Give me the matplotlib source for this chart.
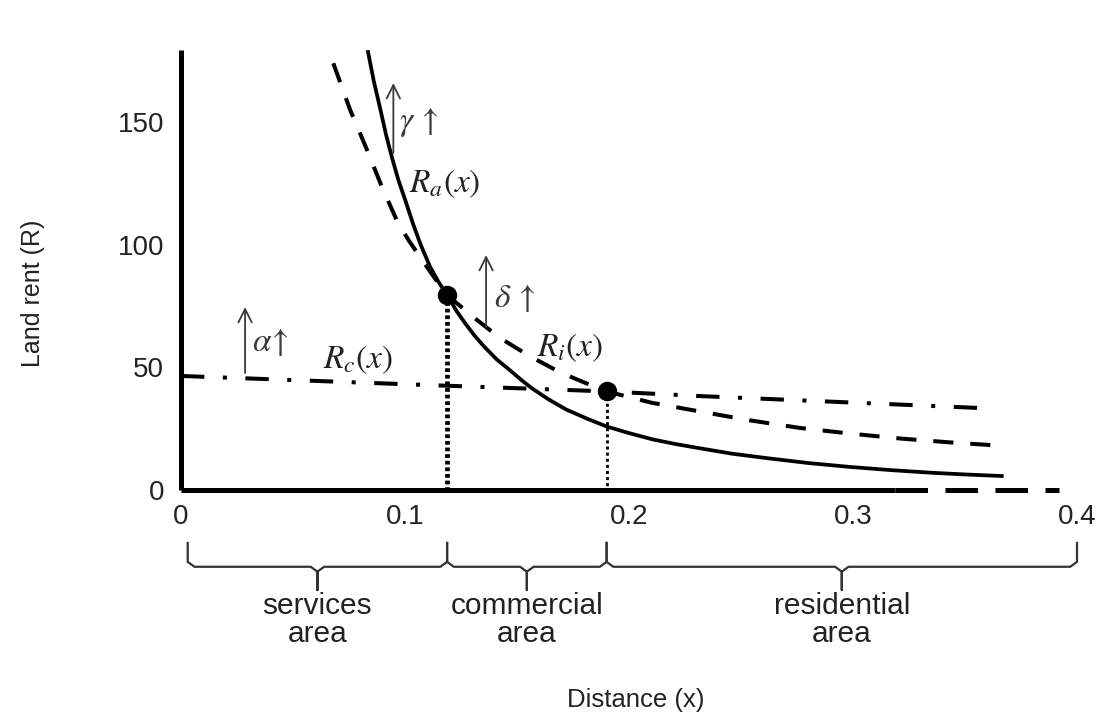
import matplotlib
matplotlib.use("Agg")
from matplotlib import pyplot as plt

plt.rcParams["font.family"] = ["Liberation Sans", "DejaVu Sans"]
plt.rcParams["mathtext.fontset"] = "stix"

# agricultural / services bid-rent curve (solid)
dist_a = [0.0835, 0.0860, 0.0888, 0.0915, 0.0942, 0.0970, 0.1000, 0.1036, 0.1070,
          0.1112, 0.1150, 0.1188, 0.1230, 0.1270, 0.1310, 0.1348, 0.1410, 0.1469,
          0.1520, 0.1566, 0.1640, 0.1720, 0.1810, 0.1900, 0.2000, 0.2107, 0.2210,
          0.2317, 0.2460, 0.2615, 0.2800, 0.2987, 0.3170, 0.3357, 0.3510, 0.3664]
rent_a = [178.6, 167.0, 156.0, 145.0, 135.5, 126.5, 118.5, 108.5, 100.0,
          91.0, 84.8, 79.5, 73.0, 67.8, 63.0, 59.0, 53.2, 48.8,
          44.8, 41.5, 37.0, 32.8, 29.2, 25.9, 23.2, 20.6, 18.7,
          17.0, 14.8, 13.0, 11.0, 9.4, 8.1, 7.0, 6.3, 5.7]

# industrial / commercial bid-rent curve (dashed)
dist_i = [0.0680, 0.0755, 0.0829, 0.0895, 0.0963, 0.1015, 0.1067, 0.1128, 0.1188,
          0.1305, 0.1424, 0.1558, 0.1692, 0.1796, 0.1900, 0.2100, 0.2317, 0.2540,
          0.2763, 0.2987, 0.3210, 0.3420, 0.3634]
rent_i = [174.0, 155.0, 139.0, 124.0, 110.0, 102.0, 95.0, 87.0, 79.5,
          70.5, 62.0, 54.5, 48.0, 44.0, 40.2, 35.6, 32.0, 28.4,
          25.3, 23.0, 21.0, 19.5, 18.2]

# residential bid-rent curve (dash-dot)
dist_c = [0.0, 0.110, 0.190, 0.2317, 0.360]
rent_c = [46.5, 42.8, 40.2, 38.3, 33.3]

# zone boundaries (intersections)
cross_x = [0.1188, 0.1900]
cross_y = [79.5, 40.2]

zone_edges = [0.003, 0.1188, 0.1900, 0.400]
zone_names = ["services\narea", "commercial\narea", "residential\narea"]

xticks = [0.0, 0.1, 0.2, 0.3, 0.4]
xtick_labels = ["0", "0.1", "0.2", "0.3", "0.4"]
yticks = [0, 50, 100, 150]

# shift arrows: (x, from, to, label, label x, label y)
shift_arrows = [
    (0.0948, 137.4, 165.9, r"$\gamma\,\uparrow$", 0.0972, 150.0),
    (0.1362, 66.4, 95.8, r"$\delta\,\uparrow$", 0.1398, 78.0),
    (0.0286, 47.7, 74.6, r"$\alpha\!\uparrow$", 0.0315, 60.0),
]
curve_labels = [
    (r"$R_a(x)$", 0.1018, 125.0),
    (r"$R_c(x)$", 0.0636, 53.0),
    (r"$R_i(x)$", 0.1590, 58.0),
]

fig = plt.figure(figsize=(11.02, 7.18), dpi=100)
ax = fig.add_axes([181 / 1102, 228 / 718, 896 / 1102, 440 / 718])
ax.set_xlim(0, 0.4)
ax.set_ylim(0, 179.4)

for side in ["top", "right", "bottom"]:
    ax.spines[side].set_visible(False)
ax.spines["left"].set_linewidth(3.6)
ax.spines["left"].set_capstyle("butt")

ax.set_xticks(xticks)
ax.set_xticklabels(xtick_labels)
ax.set_yticks(yticks)
ax.tick_params(axis="both", length=0, labelsize=20, colors="#222222")
ax.tick_params(axis="x", pad=10)
ax.tick_params(axis="y", pad=12)

# x axis: solid then dashed continuation
ax.plot([0, 0.3187], [0, 0], color="black", lw=3.6, solid_capstyle="butt", clip_on=False)
ax.plot([0.3187, 0.392], [0, 0], color="black", lw=3.6, dashes=(6.5, 3.5),
        dash_capstyle="butt", clip_on=False)

ax.plot(dist_c, rent_c, color="black", lw=2.9, dashes=(5.8, 4.6, 1, 4.6))
ax.plot(dist_i, rent_i, color="black", lw=2.9, dashes=(5, 4.2))
ax.plot(dist_a, rent_a, color="black", lw=2.7, solid_joinstyle="round")

# dotted drops to the axis
ax.plot([cross_x[0], cross_x[0]], [cross_y[0], 0], color="black", lw=3.4,
        dashes=(0.8, 0.6))
ax.plot([cross_x[1], cross_x[1]], [cross_y[1], 0], color="black", lw=2.0,
        dashes=(1.1, 1.1))
ax.plot(cross_x, cross_y, "o", color="black", ms=13, zorder=5)

for x, y0, y1, txt, tx, ty in shift_arrows:
    ax.annotate("", xy=(x, y1), xytext=(x, y0),
                arrowprops=dict(arrowstyle="->", lw=1.3, color="#3a3a3a",
                                shrinkA=0, shrinkB=0, mutation_scale=24))
    ax.text(tx, ty, txt, fontsize=24, color="#3a3a3a", ha="left", va="center")

for txt, tx, ty in curve_labels:
    ax.text(tx, ty, txt, fontsize=24, color="#222222", ha="left", va="center")

# braces below the axis
top, mid, bot = -21.6, -31.3, -40.8
dx, dy = 0.003, 2.0
for i, name in enumerate(zone_names):
    x0, x1 = zone_edges[i], zone_edges[i + 1]
    xm = (x0 + x1) / 2
    bx = [x0, x0, x0 + dx, xm - dx, xm, xm, xm, xm + dx, x1 - dx, x1, x1]
    by = [top, mid + dy, mid, mid, mid - dy, bot, mid - dy, mid, mid, mid + dy, top]
    ax.plot(bx, by, color="#333333", lw=1.6, clip_on=False)
    ax.text(xm, -53, name, fontsize=21.5, color="#222222", ha="center", va="center",
            linespacing=1.0, clip_on=False)

fig.text(636 / 1102, 1 - 700 / 718, "Distance (x)", fontsize=18.5, color="#222222",
         ha="center", va="center")
fig.text(33 / 1102, 1 - 293 / 718, "Land rent (R)", fontsize=18, color="#222222",
         ha="center", va="center", rotation=90)

fig.savefig("out.png", dpi=100)
